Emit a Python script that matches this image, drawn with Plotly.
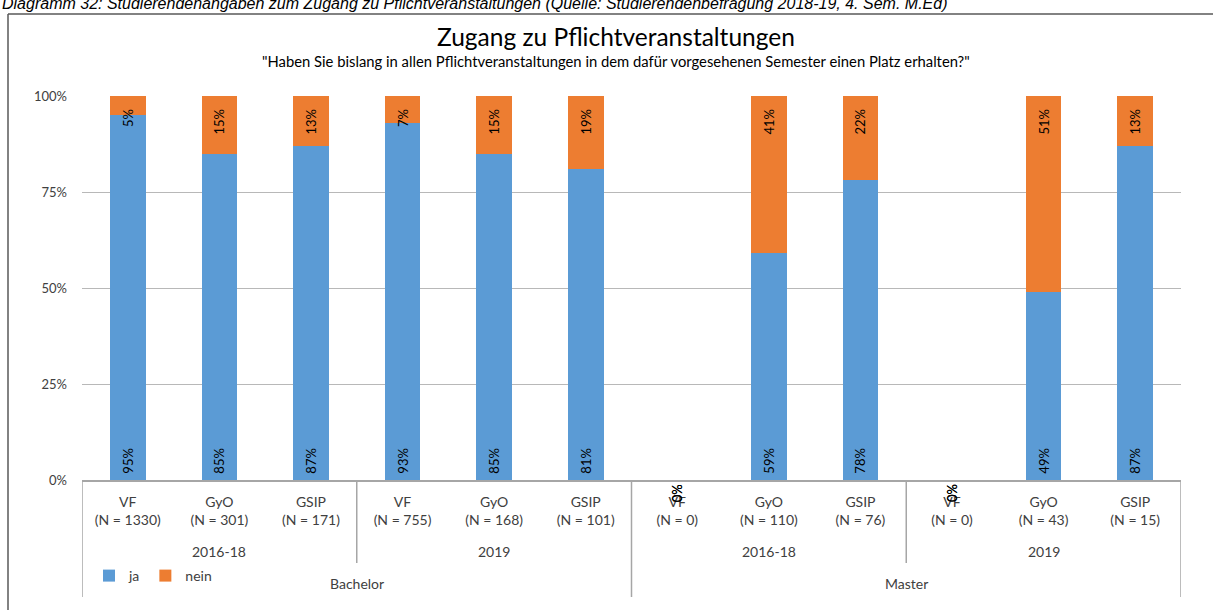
import plotly.graph_objects as go

# ---- data ----
levels = ["Bachelor"] * 6 + ["Master"] * 6
periods = ["2016-18"] * 3 + ["2019"] * 3 + ["2016-18"] * 3 + ["2019"] * 3
programs = ["VF", "GyO", "GSIP"] * 4
n_values = [1330, 301, 171, 755, 168, 101, 0, 110, 76, 0, 43, 15]
ja = [95, 85, 87, 93, 85, 81, 0, 59, 78, 0, 49, 87]
nein = [5, 15, 13, 7, 15, 19, 0, 41, 22, 0, 51, 13]
y_ticks = [0, 25, 50, 75, 100]

FONT = "Lato"
BLUE = "#5B9BD5"
ORANGE = "#ED7D31"
GRID = "#B8B8B8"
AXIS = "#A6A6A6"
TXT = "#404040"
NB = "\u00a0"

W, H = 1213, 610
L, R, T, B = 82, 32, 96, 130
PW, PH = W - L - R, H - T - B


def py(p):  # pixel y -> paper y
    return (H - B - p) / PH


def px(p):  # pixel x -> paper x
    return (p - L) / PW


xs = list(range(len(programs)))
ticktext = [f"{p}<br>(N = {n})" for p, n in zip(programs, n_values)]

fig = go.Figure()
fig.add_trace(go.Bar(
    x=xs, y=ja, name="ja", marker=dict(color=BLUE, line=dict(width=0)),
    text=[f"{NB}{v}%" if v else "" for v in ja], textposition="inside",
    insidetextanchor="start", textangle=-90, constraintext="none",
    textfont=dict(family=FONT, size=13, color="black"),
    hoverinfo="skip",
))
fig.add_trace(go.Bar(
    x=xs, y=nein, name="nein", marker=dict(color=ORANGE, line=dict(width=0)),
    text=[f"{v}%{NB * 3}" if v else "" for v in nein], textposition="inside",
    insidetextanchor="end", textangle=-90, constraintext="none",
    textfont=dict(family=FONT, size=13, color="black"),
    hoverinfo="skip",
))

annotations = []
shapes = []

# zero-value labels (drawn at base, as in source)
for series in (ja, nein):
    for i, v in enumerate(series):
        if v == 0:
            annotations.append(dict(
                x=i, y=0, xref="x", yref="y", text=f"{v}%", textangle=-90,
                showarrow=False, yanchor="middle", yshift=-13,
                font=dict(family=FONT, size=13, color="black")))

# period labels
groups = []
for i, (lv, pe) in enumerate(zip(levels, periods)):
    key = (lv, pe)
    if not groups or groups[-1][0] != key:
        groups.append([key, i, i])
    else:
        groups[-1][2] = i
for (lv, pe), a, b in groups:
    annotations.append(dict(x=(a + b) / 2, y=py(551), xref="x", yref="paper",
                            text=pe, showarrow=False, yanchor="middle",
                            font=dict(family=FONT, size=14, color=TXT)))

lev_groups = []
for i, lv in enumerate(levels):
    if not lev_groups or lev_groups[-1][0] != lv:
        lev_groups.append([lv, i, i])
    else:
        lev_groups[-1][2] = i
for lv, a, b in lev_groups:
    annotations.append(dict(x=(a + b) / 2, y=py(583), xref="x", yref="paper",
                            text=lv, showarrow=False, yanchor="middle",
                            font=dict(family=FONT, size=14, color=TXT)))

# divider lines
level_bounds = {a - 0.5 for _, a, _ in lev_groups} | {b + 0.5 for _, _, b in lev_groups}
period_bounds = {a - 0.5 for _, a, _ in groups} | {b + 0.5 for _, _, b in groups}
for xb in sorted(period_bounds | level_bounds):
    bottom = 597 if xb in level_bounds else 563
    shapes.append(dict(type="line", xref="x", yref="paper", x0=xb, x1=xb,
                       y0=0, y1=py(bottom), line=dict(color=AXIS, width=1.5)))

# outer frame (top and left edges)
shapes.append(dict(type="line", xref="paper", yref="paper", x0=px(8), x1=px(1213),
                   y0=py(14), y1=py(14), line=dict(color="#595959", width=1.5)))
shapes.append(dict(type="line", xref="paper", yref="paper", x0=px(8), x1=px(8),
                   y0=py(14), y1=py(615), line=dict(color="#595959", width=1.5)))

# caption (partially cut at top, as in the source)
annotations.append(dict(
    x=px(0), y=py(14), xref="paper", yref="paper", xanchor="left", yanchor="bottom",
    text="Diagramm 32: Studierendenangaben zum Zugang zu Pflichtveranstaltungen "
         "(Quelle: Studierendenbefragung 2018-19, 4. Sem. M.Ed)",
    showarrow=False, font=dict(family="Liberation Sans", size=16, color="black", style="italic")))

# title and subtitle
annotations.append(dict(x=px(616), y=py(36), xref="paper", yref="paper",
                        text="Zugang zu Pflichtveranstaltungen", showarrow=False,
                        yanchor="middle", font=dict(family=FONT, size=24.5, color="black")))
annotations.append(dict(x=px(616), y=py(61), xref="paper", yref="paper",
                        text="\"Haben Sie bislang in allen Pflichtveranstaltungen in dem dafür "
                             "vorgesehenen Semester einen Platz erhalten?\"",
                        showarrow=False, yanchor="middle",
                        font=dict(family=FONT, size=14.8, color="black")))

fig.update_layout(
    width=W, height=H,
    margin=dict(l=L, r=R, t=T, b=B, pad=0),
    barmode="stack", bargap=0.61,
    paper_bgcolor="white", plot_bgcolor="white",
    font=dict(family=FONT, size=13, color=TXT),
    showlegend=True,
    legend=dict(orientation="h", x=px(89), y=py(576), xanchor="left", yanchor="middle",
                font=dict(family=FONT, size=14, color=TXT), itemwidth=30,
                bgcolor="rgba(0,0,0,0)", traceorder="normal"),
    xaxis=dict(range=[-0.5, len(xs) - 0.5], tickvals=xs, ticktext=ticktext,
               showgrid=False, showline=True, linecolor=AXIS, linewidth=1.5,
               ticks="", zeroline=False, ticklabelstandoff=8,
               tickfont=dict(family=FONT, size=14, color=TXT),
               fixedrange=True),
    yaxis=dict(range=[0, 100], tickvals=y_ticks, ticktext=[f"{v}%" for v in y_ticks],
               showgrid=True, gridcolor=GRID, gridwidth=1, zeroline=False,
               showline=False, ticks="", ticklabelstandoff=14,
               tickfont=dict(family=FONT, size=13, color=TXT), fixedrange=True),
    annotations=annotations, shapes=shapes,
)

fig.write_html("out.html", config={"displayModeBar": False},
               post_script="document.body.style.margin='0';")
